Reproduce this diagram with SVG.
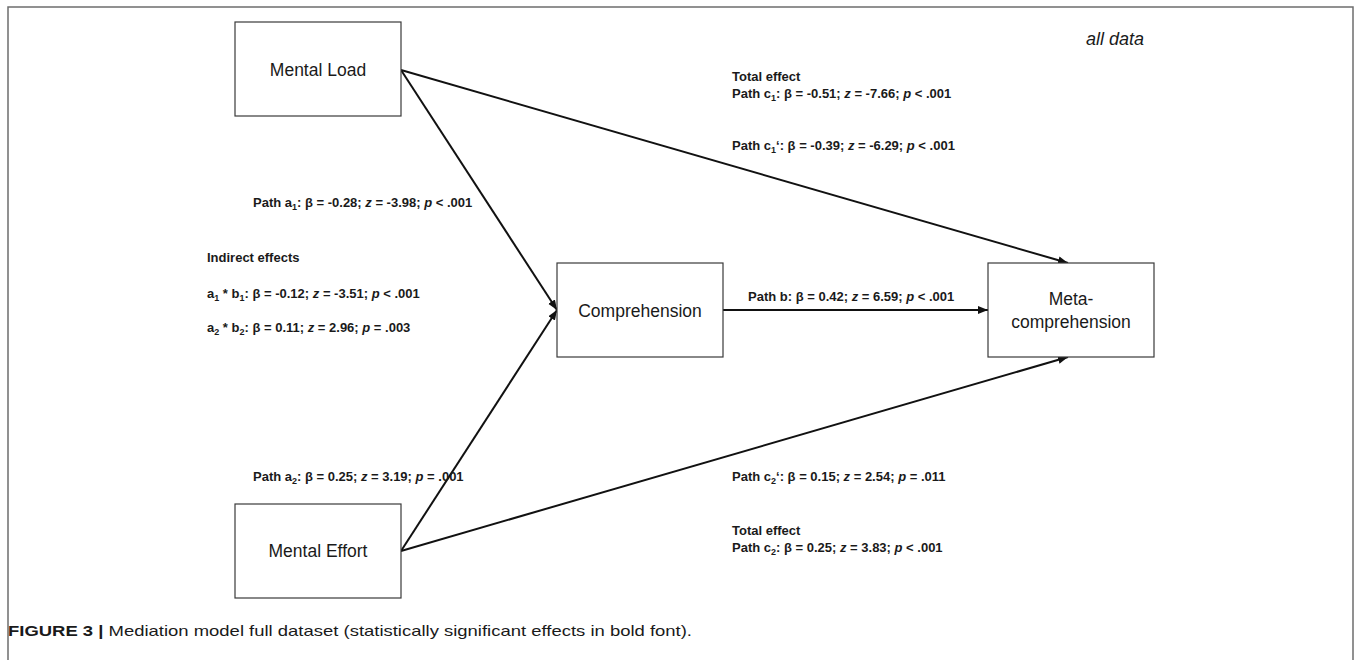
<svg xmlns="http://www.w3.org/2000/svg" width="1356" height="660" viewBox="0 0 1356 660">
<style>
.box{fill:#fff;stroke:#3a3a3a;stroke-width:1.2}
.node{font-family:"Liberation Sans",Arial,sans-serif;font-size:17.5px;fill:#1a1a1a;text-anchor:middle}
.lbl{font-family:"Liberation Sans",Arial,sans-serif;font-size:13px;font-weight:bold;fill:#1a1a1a}
.it{font-style:italic}
.conn{stroke:#111;stroke-width:2;fill:none;marker-end:url(#ah)}
.frame{stroke:#6e6e6e;stroke-width:1.5;fill:none}
.cap{font-family:"Liberation Sans",Arial,sans-serif;font-size:15px;fill:#1a1a1a}
</style>
<defs>
<marker id="ah" markerUnits="userSpaceOnUse" markerWidth="12" markerHeight="10" refX="10" refY="4" orient="auto">
<path d="M0,0 L10,4 L0,8 z" fill="#111"/>
</marker>
</defs>
<rect width="1356" height="660" fill="#fff"/>
<path class="frame" d="M8,662 V7 H1353 V662"/>
<text x="1144" y="45" font-family="'Liberation Sans',Arial,sans-serif" font-size="18" font-style="italic" fill="#1a1a1a" text-anchor="end">all data</text>

<g id="connectors">
<line class="conn" x1="401" y1="70" x2="557" y2="310"/>
<line class="conn" x1="401" y1="551" x2="557" y2="310"/>
<line class="conn" x1="401" y1="70" x2="1068" y2="263"/>
<line class="conn" x1="401" y1="551" x2="1068" y2="357"/>
<line class="conn" x1="723" y1="310" x2="988" y2="310"/>
</g>

<g id="mental-load"><rect class="box" x="235" y="22" width="166" height="94"/><text class="node" x="318" y="76">Mental Load</text></g>
<g id="comprehension"><rect class="box" x="557" y="263" width="166" height="94"/><text class="node" x="640" y="317">Comprehension</text></g>
<g id="meta-comprehension"><rect class="box" x="988" y="263" width="166" height="94"/><text class="node" x="1071" y="305">Meta-</text><text class="node" x="1071" y="328">comprehension</text></g>
<g id="mental-effort"><rect class="box" x="235" y="504" width="166" height="94"/><text class="node" x="318" y="557">Mental Effort</text></g>

<g id="labels">
<text class="lbl" x="253" y="207">Path a<tspan font-size="9" dy="3">1</tspan><tspan dy="-3">: β = -0.28; </tspan><tspan class="it">z</tspan> = -3.98; <tspan class="it">p</tspan> &lt; .001</text>
<text class="lbl" x="207" y="262">Indirect effects</text>
<text class="lbl" x="207" y="298">a<tspan font-size="9" dy="3">1</tspan><tspan dy="-3"> * b</tspan><tspan font-size="9" dy="3">1</tspan><tspan dy="-3">: β = -0.12; </tspan><tspan class="it">z</tspan> = -3.51; <tspan class="it">p</tspan> &lt; .001</text>
<text class="lbl" x="207" y="332">a<tspan font-size="9" dy="3">2</tspan><tspan dy="-3"> * b</tspan><tspan font-size="9" dy="3">2</tspan><tspan dy="-3">: β = 0.11; </tspan><tspan class="it">z</tspan> = 2.96; <tspan class="it">p</tspan> = .003</text>
<text class="lbl" x="253" y="481">Path a<tspan font-size="9" dy="3">2</tspan><tspan dy="-3">: β = 0.25; </tspan><tspan class="it">z</tspan> = 3.19; <tspan class="it">p</tspan> = .001</text>
<text class="lbl" x="732" y="81">Total effect</text>
<text class="lbl" x="732" y="98">Path c<tspan font-size="9" dy="3">1</tspan><tspan dy="-3">: β = -0.51; </tspan><tspan class="it">z</tspan> = -7.66; <tspan class="it">p</tspan> &lt; .001</text>
<text class="lbl" x="732" y="150">Path c<tspan font-size="9" dy="3">1</tspan><tspan dy="-3">‘: β = -0.39; </tspan><tspan class="it">z</tspan> = -6.29; <tspan class="it">p</tspan> &lt; .001</text>
<text class="lbl" x="748" y="301">Path b: β = 0.42; <tspan class="it">z</tspan> = 6.59; <tspan class="it">p</tspan> &lt; .001</text>
<text class="lbl" x="732" y="481">Path c<tspan font-size="9" dy="3">2</tspan><tspan dy="-3">‘: β = 0.15; </tspan><tspan class="it">z</tspan> = 2.54; <tspan class="it">p</tspan> = .011</text>
<text class="lbl" x="732" y="535">Total effect</text>
<text class="lbl" x="732" y="552">Path c<tspan font-size="9" dy="3">2</tspan><tspan dy="-3">: β = 0.25; </tspan><tspan class="it">z</tspan> = 3.83; <tspan class="it">p</tspan> &lt; .001</text>
</g>

<text class="cap" x="8" y="636" textLength="684" lengthAdjust="spacingAndGlyphs"><tspan font-weight="bold">FIGURE 3 | </tspan>Mediation model full dataset (statistically significant effects in bold font).</text>
</svg>
